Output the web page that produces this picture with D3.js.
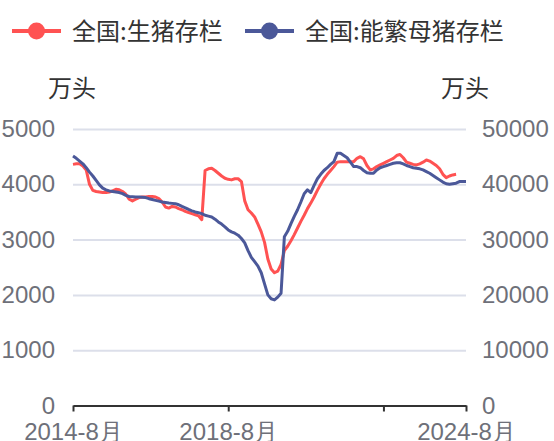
<!DOCTYPE html>
<html><head><meta charset="utf-8">
<script src="https://cdn.jsdelivr.net/npm/d3@7/dist/d3.min.js"></script>
<style>
html,body{margin:0;padding:0;background:#fff;}
svg{display:block;font-family:"Noto Sans CJK SC","Noto Sans",sans-serif;}
</style></head>
<body><svg id="c" width="554" height="441"></svg>
<script>
const categories = [
"2014-8月","2014-9月","2014-10月","2014-11月","2014-12月",
"2015-1月","2015-2月","2015-3月","2015-4月","2015-5月","2015-6月","2015-7月","2015-8月","2015-9月","2015-10月","2015-11月","2015-12月",
"2016-2月","2016-3月","2016-4月","2016-5月","2016-6月","2016-7月","2016-8月","2016-9月","2016-10月","2016-11月","2016-12月",
"2017-1月","2017-2月","2017-3月","2017-4月","2017-5月","2017-6月","2017-7月","2017-8月","2017-9月","2017-10月","2017-11月","2017-12月",
"2018-1月","2018-2月","2018-3月","2018-4月","2018-5月","2018-6月","2018-7月","2018-8月",
"2018-9月","2018-10月","2018-11月","2018-12月",
"2019-1月","2019-2月","2019-3月","2019-4月","2019-5月","2019-6月","2019-7月","2019-8月","2019-9月","2019-10月","2019-11月","2019-12月",
"2020-1月","2020-2月","2020-3月","2020-4月","2020-5月","2020-6月","2020-7月","2020-8月","2020-9月","2020-10月","2020-11月","2020-12月",
"2021-1月","2021-2月","2021-3月","2021-4月","2021-5月","2021-6月","2021-7月","2021-8月","2021-9月","2021-10月","2021-11月","2021-12月",
"2022-1月","2022-2月","2022-3月","2022-4月","2022-5月","2022-6月","2022-7月","2022-8月","2022-9月","2022-10月","2022-11月","2022-12月",
"2023-1月","2023-2月","2023-3月","2023-4月","2023-5月","2023-6月","2023-7月","2023-8月","2023-9月","2023-10月","2023-11月","2023-12月",
"2024-1月","2024-2月","2024-3月","2024-4月","2024-5月","2024-6月","2024-7月","2024-8月"
];

// 全国:生猪存栏 (右轴, 万头)
const hogStock = [
43600,43700,43700,43300,42600,40000,38900,38700,38600,38500,
38500,38600,38800,39100,39000,38700,38200,37300,37000,37300,
37600,37700,37700,37800,37800,37700,37400,36800,35900,35700,
36000,35900,35600,35400,35100,34900,34700,34500,34300,33600,
42500,42800,42900,42500,42000,41500,41100,40900,40800,41000,
41000,40500,37000,35400,34800,34100,32800,31400,29500,26500,
24700,24000,24300,25500,28000,28800,29800,30900,32100,33300,
34400,35600,36600,37700,38900,40000,41000,41800,42500,43200,
44000,44100,44100,44100,44100,44100,44700,45000,44600,43400,
42600,42800,43200,43500,43800,44100,44400,44700,45200,45400,
44800,44000,43800,43600,43500,43700,44000,44400,44200,43800,
43400,42800,41800,41200,41500,41700,41800,null,null,null
];

// 全国:能繁母猪存栏 (左轴, 万头)
const sowStock = [
4510,4470,4420,4370,4300,4220,4150,4070,3990,3930,
3900,3880,3870,3860,3850,3830,3800,3780,3775,3770,
3770,3765,3760,3740,3725,3710,3695,3680,3670,3660,
3655,3650,3630,3600,3575,3545,3520,3500,3485,3470,
3440,3425,3410,3370,3320,3280,3230,3175,3140,3115,
3080,3020,2940,2800,2680,2600,2520,2400,2200,2000,
1930,1910,1960,2030,3050,3150,3290,3420,3540,3680,
3830,3900,3850,3980,4100,4180,4250,4300,4360,4410,
4560,4560,4520,4480,4400,4320,4320,4300,4250,4210,
4200,4200,4260,4300,4320,4340,4360,4380,4390,4390,
4370,4340,4320,4300,4290,4280,4260,4230,4200,4160,
4120,4080,4040,4010,4000,4010,4020,4050,4050,4050
];

const leftTicks = [0,1000,2000,3000,4000,5000];
const rightTicks = [0,10000,20000,30000,40000,50000];
const xTickMarks = ["2014-8月","2018-8月","2022-7月","2024-8月"];
const xTickLabels = ["2014-8月","2018-8月","2024-8月"];
const seriesNames = ["全国:生猪存栏","全国:能繁母猪存栏"];
const seriesColors = ["#FF5252","#4B5899"];
const unitName = "万头";

const svg = d3.select("#c");
const L = 73, R = 466, T = 129, B = 405.5;
const x = d3.scalePoint().domain(categories).range([L, R]);
const yL = d3.scaleLinear().domain([0,5000]).range([B, T]);
const yR = d3.scaleLinear().domain([0,50000]).range([B, T]);
const labelColor = "#6E7079";
const fmt = d3.format("d");

// grid lines
const grid = svg.append("g").attr("transform", `translate(${L},0)`)
  .call(d3.axisLeft(yL).tickValues(leftTicks.slice(1)).tickSize(-(R-L)).tickFormat(""));
grid.select(".domain").remove();
grid.selectAll("line").attr("stroke","#DCDFEA").attr("stroke-width",2);

// left axis labels
const la = svg.append("g").attr("transform", `translate(55,0)`)
  .call(d3.axisLeft(yL).tickValues(leftTicks).tickSize(0).tickPadding(0).tickFormat(fmt));
la.select(".domain").remove();
la.selectAll("text").attr("fill",labelColor).style("font-size","24px").attr("font-family","inherit");

// right axis labels
const ra = svg.append("g").attr("transform", `translate(482,0)`)
  .call(d3.axisRight(yR).tickValues(rightTicks).tickSize(0).tickPadding(0).tickFormat(fmt));
ra.select(".domain").remove();
ra.selectAll("text").attr("fill",labelColor).style("font-size","24px").attr("font-family","inherit");

// x axis
const xa = svg.append("g").attr("transform", `translate(0,${B})`)
  .call(d3.axisBottom(x).tickValues(xTickMarks).tickSize(6).tickSizeOuter(0)
    .tickFormat(d => xTickLabels.includes(d) ? d : ""));
xa.select(".domain").attr("stroke","#333").attr("stroke-width",2);
xa.selectAll(".tick line").attr("stroke","#333").attr("stroke-width",2);
xa.selectAll("text").attr("fill",labelColor).style("font-size","24px")
  .attr("font-family","inherit").attr("dy",null).attr("y",34.5);

// lines
const lineR = d3.line().defined(d => d != null).x((d,i) => x(categories[i])).y(d => yR(d));
const lineL = d3.line().defined(d => d != null).x((d,i) => x(categories[i])).y(d => yL(d));
svg.append("path").datum(hogStock).attr("d", lineR).attr("fill","none")
  .attr("stroke",seriesColors[0]).attr("stroke-width",3).attr("stroke-linejoin","round");
svg.append("path").datum(sowStock).attr("d", lineL).attr("fill","none")
  .attr("stroke",seriesColors[1]).attr("stroke-width",3).attr("stroke-linejoin","round");

// legend
const legendX = [12, 245];
seriesNames.forEach((n,i) => {
  const g = svg.append("g").attr("transform", `translate(${legendX[i]},31)`);
  g.append("line").attr("x1",0).attr("x2",49).attr("y1",0).attr("y2",0)
    .attr("stroke",seriesColors[i]).attr("stroke-width",4);
  g.append("circle").attr("cx",24.5).attr("cy",0).attr("r",8.5).attr("fill",seriesColors[i]);
  g.append("text").attr("x",60).attr("y",8.5).attr("fill","#333")
    .style("font-size","24px").text(n);
});

// axis names
svg.append("text").attr("x",48).attr("y",96.5).attr("fill","#333").style("font-size","24px").text(unitName);
svg.append("text").attr("x",441).attr("y",96.5).attr("fill","#333").style("font-size","24px").text(unitName);
</script>
</body></html>
